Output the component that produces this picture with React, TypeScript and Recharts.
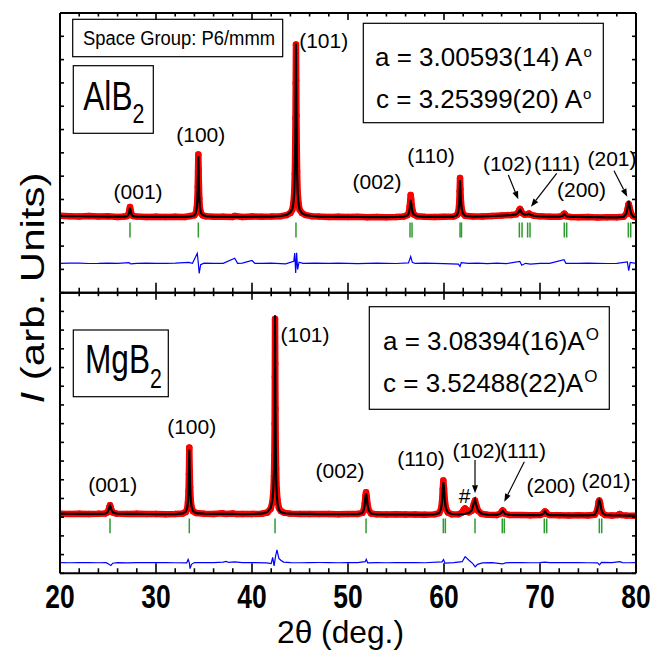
import React from "react";
import { ComposedChart, Line, Scatter, XAxis, YAxis, ReferenceDot, ReferenceLine } from "recharts";

const FONT = "'Liberation Sans', Arial, Helvetica, sans-serif";

// shared 2-theta axis
const xTicks = [20, 22, 24, 26, 28, 30, 32, 34, 36, 38, 40, 42, 44, 46, 48, 50, 52, 54, 56, 58, 60, 62, 64, 66, 68, 70, 72, 74, 76, 78, 80];
const topYTicks = [0, 1000, 2000, 3000, 4000, 5000, 6000, 7000, 8000, 9000, 10000, 11000, 12000];
const botYTicks = [0, 1000, 2000, 3000, 4000, 5000, 6000, 7000, 8000, 9000, 10000, 11000, 12000, 13000, 14000, 15000];

// AlB2: [2theta, observed, calculated]
const alObsCalc: [number, number, number][] = [
  [20.0, 3300, 3290], [21.0, 3285, 3285], [22.0, 3270, 3280], [23.0, 3290, 3275], [24.0, 3265, 3270],
  [25.0, 3275, 3265], [26.0, 3250, 3262], [26.7, 3265, 3262], [27.0, 3290, 3285], [27.15, 3380, 3360],
  [27.22, 3530, 3500], [27.29, 3680, 3650], [27.36, 3520, 3500], [27.45, 3370, 3350], [27.6, 3290, 3285],
  [28.0, 3265, 3262], [29.0, 3250, 3258], [30.0, 3262, 3255], [31.0, 3245, 3252], [32.0, 3258, 3250],
  [33.0, 3250, 3255], [33.6, 3290, 3275], [34.0, 3320, 3320], [34.15, 3420, 3430], [34.25, 3640, 3660],
  [34.31, 4000, 4050], [34.35, 4550, 4600], [34.38, 5200, 5250], [34.41, 5930, 5850], [34.44, 5300, 5250],
  [34.47, 4600, 4620], [34.51, 4050, 4080], [34.57, 3650, 3680], [34.67, 3430, 3440], [34.85, 3320, 3330],
  [35.2, 3280, 3285], [36.0, 3255, 3262], [37.0, 3262, 3258], [38.0, 3250, 3255], [38.2, 3290, 3255],
  [39.0, 3245, 3255], [40.0, 3270, 3258], [41.0, 3260, 3262], [42.0, 3265, 3268], [43.0, 3285, 3290],
  [43.6, 3330, 3340], [44.0, 3420, 3450], [44.2, 3560, 3600], [44.32, 3850, 3880], [44.4, 4300, 4350],
  [44.46, 5100, 5200], [44.5, 6200, 6300], [44.53, 7500, 7600], [44.555, 9000, 9100], [44.58, 10650, 10700],
  [44.605, 9100, 9100], [44.63, 7600, 7600], [44.66, 6300, 6300], [44.7, 5200, 5150], [44.76, 4300, 4300],
  [44.84, 3850, 3850], [44.96, 3560, 3570], [45.2, 3420, 3410], [45.6, 3330, 3330], [46.2, 3285, 3290],
  [47.0, 3265, 3268], [48.0, 3250, 3258], [49.0, 3262, 3252], [50.0, 3245, 3250], [51.0, 3255, 3248],
  [52.0, 3240, 3246], [53.0, 3252, 3245], [54.0, 3240, 3244], [55.0, 3250, 3248], [55.8, 3270, 3265],
  [56.2, 3330, 3320], [56.35, 3450, 3420], [56.43, 3700, 3620], [56.48, 3950, 3820], [56.53, 4190, 3980],
  [56.58, 4000, 3850], [56.64, 3750, 3660], [56.72, 3520, 3470], [56.85, 3360, 3350], [57.2, 3280, 3280],
  [58.0, 3255, 3255], [59.0, 3245, 3250], [60.0, 3255, 3252], [61.0, 3265, 3262], [61.35, 3330, 3330],
  [61.5, 3480, 3500], [61.58, 3800, 3820], [61.63, 4350, 4320], [61.67, 4920, 4835], [61.71, 4450, 4420],
  [61.76, 3950, 3950], [61.84, 3600, 3610], [61.95, 3400, 3410], [62.2, 3300, 3300], [63.0, 3265, 3268],
  [64.0, 3270, 3275], [65.0, 3290, 3290], [66.0, 3310, 3310], [67.0, 3335, 3330], [67.5, 3360, 3360],
  [67.75, 3450, 3440], [67.85, 3550, 3530], [67.92, 3590, 3560], [68.0, 3530, 3510], [68.12, 3420, 3410],
  [68.4, 3350, 3350], [68.7, 3360, 3355], [68.85, 3400, 3385], [69.0, 3350, 3340], [69.4, 3300, 3295],
  [70.0, 3275, 3275], [71.0, 3258, 3262], [72.0, 3260, 3260], [72.35, 3290, 3290], [72.45, 3360, 3340],
  [72.53, 3390, 3365], [72.62, 3350, 3335], [72.75, 3275, 3280], [73.2, 3250, 3255], [74.0, 3240, 3250],
  [75.0, 3245, 3245], [76.0, 3230, 3240], [77.0, 3240, 3235], [78.0, 3235, 3232], [78.7, 3260, 3255],
  [79.0, 3380, 3400], [79.12, 3580, 3650], [79.2, 3760, 3880], [79.24, 3800, 3950], [79.3, 3700, 3800],
  [79.38, 3550, 3580], [79.5, 3380, 3390], [79.7, 3280, 3270], [80.0, 3240, 3230],
];

// AlB2: [2theta, obs - calc (offset)]
const alDiff: [number, number][] = [
  [20, 1260], [21, 1270], [22, 1265], [23, 1252], [24, 1255], [25, 1268], [26, 1262], [27.2, 1290], [27.35, 1235],
  [28, 1260], [29, 1270], [30, 1255], [31, 1262], [32, 1265], [33.4, 1300], [33.8, 1262], [34.3, 1690],
  [34.41, 1260], [34.5, 830], [34.65, 1200], [35, 1270], [36, 1258], [37, 1262], [38.2, 1480], [38.5, 1258],
  [39, 1268], [40, 1380], [40.3, 1260], [41, 1255], [42, 1265], [43.5, 1240], [44.35, 1350], [44.45, 1700],
  [44.55, 850], [44.65, 1710], [44.75, 1000], [44.9, 1310], [45.3, 1260], [46.5, 1270], [48, 1258],
  [49, 1268], [50, 1262], [51, 1250], [52, 1255], [53, 1266], [54, 1260], [55, 1252], [56.3, 1280],
  [56.53, 1550], [56.7, 1300], [57, 1255], [58, 1266], [59, 1262], [60, 1250], [61.5, 1230], [61.67, 1130],
  [61.8, 1290], [62.5, 1255], [63.5, 1268], [64.5, 1250], [65.5, 1265], [66.5, 1250], [67.9, 1340],
  [68.1, 1180], [68.5, 1262], [69, 1230], [70, 1262], [71, 1255], [72.5, 1420], [72.7, 1262], [74, 1255],
  [75, 1266], [76, 1262], [77, 1252], [78, 1258], [79.1, 1320], [79.24, 950], [79.4, 1300], [80, 1260],
];

const alBragg = [27.29, 34.41, 44.58, 56.46, 56.67, 61.67, 61.82, 67.85, 68.13, 68.71, 68.96, 72.53, 72.78, 79.2, 79.45];
const alBraggLevel = 2690;

// MgB2: [2theta, observed, calculated]
const mgObsCalc: [number, number, number][] = [
  [20.0, 3190, 3185], [21.0, 3175, 3182], [22.0, 3185, 3178], [23.0, 3170, 3176], [24.0, 3180, 3174],
  [24.7, 3200, 3190], [24.95, 3260, 3270], [25.08, 3400, 3420], [25.15, 3540, 3550], [25.21, 3640, 3620],
  [25.27, 3530, 3540], [25.35, 3390, 3400], [25.5, 3250, 3260], [25.9, 3190, 3195], [27.0, 3175, 3180],
  [28.0, 3180, 3172], [29.0, 3165, 3170], [30.0, 3172, 3168], [31.0, 3160, 3166], [32.0, 3170, 3168],
  [32.8, 3200, 3205], [33.1, 3280, 3300], [33.25, 3450, 3480], [33.33, 3800, 3850], [33.39, 4400, 4450],
  [33.43, 5300, 5350], [33.47, 6720, 6600], [33.51, 5500, 5550], [33.55, 4600, 4700], [33.61, 3950, 4000],
  [33.7, 3550, 3580], [33.85, 3320, 3330], [34.2, 3220, 3215], [35.0, 3180, 3185], [36.0, 3170, 3178],
  [36.9, 3210, 3176], [37.2, 3175, 3175], [38.0, 3200, 3172], [38.4, 3165, 3170], [39.0, 3170, 3168],
  [40.0, 3172, 3170], [41.0, 3185, 3185], [41.6, 3250, 3270], [41.95, 3450, 3500], [42.12, 3800, 3900],
  [42.22, 4300, 4500], [42.29, 5200, 5500], [42.33, 6300, 6700], [42.36, 8000, 8300], [42.38, 10500, 11000],
  [42.4, 13600, 13800], [42.42, 11200, 11300], [42.445, 8800, 8700], [42.47, 7000, 6800], [42.51, 5600, 5300],
  [42.57, 4500, 4300], [42.66, 3900, 3700], [42.8, 3500, 3400], [43.0, 3330, 3280], [43.4, 3230, 3210],
  [44.0, 3190, 3190], [45.0, 3175, 3180], [46.0, 3170, 3172], [47.0, 3165, 3168], [48.0, 3170, 3165],
  [49.0, 3160, 3162], [50.0, 3165, 3160], [51.0, 3170, 3165], [51.5, 3230, 3220], [51.65, 3400, 3400],
  [51.75, 3750, 3720], [51.82, 4150, 4100], [51.88, 4330, 4280], [51.95, 4100, 4050], [52.03, 3700, 3680],
  [52.15, 3380, 3370], [52.4, 3200, 3195], [53.0, 3150, 3155], [54.0, 3145, 3150], [55.0, 3150, 3145],
  [56.0, 3140, 3145], [57.0, 3145, 3140], [58.0, 3135, 3140], [59.0, 3150, 3150], [59.5, 3220, 3220],
  [59.7, 3450, 3460], [59.8, 3850, 3860], [59.87, 4500, 4450], [59.93, 4960, 4880], [60.0, 4550, 4500],
  [60.08, 3950, 3900], [60.2, 3500, 3480], [60.4, 3250, 3250], [60.8, 3160, 3170], [61.5, 3150, 3155],
  [61.9, 3250, 3165], [62.05, 3400, 3170], [62.19, 3465, 3180], [62.35, 3380, 3200], [62.6, 3260, 3240],
  [62.9, 3350, 3380], [63.1, 3700, 3750], [63.23, 3890, 3930], [63.35, 3650, 3680], [63.55, 3350, 3350],
  [63.9, 3180, 3190], [64.5, 3130, 3135], [65.5, 3120, 3125], [65.9, 3200, 3200], [66.03, 3310, 3290],
  [66.11, 3360, 3330], [66.2, 3300, 3280], [66.35, 3180, 3180], [66.8, 3120, 3120], [68.0, 3110, 3115],
  [69.0, 3105, 3110], [70.0, 3110, 3108], [70.35, 3180, 3180], [70.45, 3270, 3260], [70.52, 3310, 3300],
  [70.6, 3280, 3270], [70.7, 3180, 3180], [71.0, 3110, 3110], [72.0, 3100, 3105], [73.0, 3095, 3100],
  [74.0, 3100, 3095], [75.0, 3095, 3092], [75.7, 3130, 3130], [75.95, 3350, 3380], [76.06, 3650, 3700],
  [76.12, 3830, 3870], [76.18, 3890, 3920], [76.26, 3750, 3790], [76.36, 3450, 3480], [76.5, 3220, 3230],
  [76.8, 3110, 3115], [77.5, 3090, 3092], [78.1, 3110, 3090], [78.3, 3170, 3100], [78.5, 3110, 3090],
  [79.0, 3085, 3085], [80.0, 3080, 3080],
];

const mgDiff: [number, number][] = [
  [20, 570], [21, 565], [22, 575], [23, 568], [24, 565], [24.8, 570], [25.1, 480], [25.3, 420], [25.5, 540],
  [26, 570], [27, 562], [28, 568], [29, 575], [30, 575], [31, 566], [32, 565], [33.2, 560], [33.35, 740],
  [33.47, 570], [33.55, 250], [33.7, 480], [34, 575], [35, 568], [36, 572], [37, 600], [37.3, 640],
  [37.6, 580], [38.2, 610], [39, 570], [40, 572], [41.5, 555], [42.0, 520], [42.15, 850], [42.3, 400],
  [42.45, 900], [42.6, 1250], [42.8, 800], [43.0, 700], [43.3, 600], [44, 575], [45, 565], [46, 570],
  [47, 576], [48, 572], [49, 565], [50, 568], [51, 572], [51.8, 620], [51.9, 750], [52.05, 560], [53, 570],
  [54, 565], [55, 572], [56, 578], [57, 568], [58, 565], [59.8, 610], [59.95, 730], [60.1, 540], [61, 570],
  [61.9, 620], [62.2, 890], [62.6, 700], [63.0, 520], [63.25, 350], [63.5, 480], [64, 560], [65, 570],
  [66.1, 500], [66.4, 560], [67, 572], [68, 575], [69, 565], [70, 570], [70.5, 600], [71, 566], [72, 568],
  [73, 575], [74, 572], [75, 565], [76.0, 560], [76.2, 450], [76.4, 580], [77.5, 570], [78.3, 620],
  [78.6, 575], [79.3, 565], [80, 570],
];

const mgBragg = [25.21, 33.47, 42.4, 51.88, 59.93, 60.14, 63.23, 66.07, 66.28, 70.45, 70.7, 76.18, 76.43];
const mgBraggLevel = 2540;

// Miller index labels [2theta, intensity, text]
const alLabels: [number, number, string][] = [
  [28.13, 4020, "(001)"], [34.66, 6465, "(100)"], [47.47, 10498, "(101)"], [53.02, 4449, "(002)"],
  [58.65, 5564, "(110)"], [66.61, 5221, "(102)"], [71.77, 5221, "(111)"], [74.32, 4105, "(200)"],
  [77.5, 5435, "(201)"],
];
const alArrows: [number, number, number, number][] = [
  [66.7, 5049, 67.74, 4007], [71.74, 5122, 69.06, 3689], [77.71, 5232, 79.09, 4118],
];
const mgLabels: [number, number, string][] = [
  [25.49, 4346, "(001)"], [33.72, 7447, "(100)"], [45.52, 12365, "(101)"], [49.17, 5095, "(002)"],
  [57.6, 5736, "(110)"], [63.44, 6164, "(102)"], [68.23, 6164, "(111)"], [62.14, 3758, "#"],
  [71.15, 4293, "(200)"], [76.88, 4560, "(201)"],
];
const mgArrows: [number, number, number, number][] = [
  [63.23, 6057, 63.23, 4277], [68.36, 5966, 66.28, 3828],
];

const axisLine = { stroke: "#000", strokeWidth: 2 };

const Arrow = (p: any) => {
  const { x1, y1, x2, y2 } = p;
  const dx = x2 - x1;
  const dy = y2 - y1;
  const len = Math.hypot(dx, dy) || 1;
  const ux = dx / len;
  const uy = dy / len;
  const bx = x2 - ux * 8;
  const by = y2 - uy * 8;
  return (
    <g>
      <line x1={x1} y1={y1} x2={bx} y2={by} stroke="#000" strokeWidth={1.2} />
      <polygon points={`${x2},${y2} ${bx - uy * 3},${by + ux * 3} ${bx + uy * 3},${by - ux * 3}`} fill="#000" />
    </g>
  );
};

interface PanelProps {
  pts: [number, number, number][];
  diff: [number, number][];
  bragg: number[];
  braggLevel: number;
  labels: [number, number, string][];
  arrows: [number, number, number, number][];
  yTicks: number[];
  top: number;
  height: number;
  margin: { top: number; right: number; bottom: number; left: number };
  showLabels: boolean;
}

function Panel({ pts, diff, bragg, braggLevel, labels, arrows, yTicks, top, height, margin, showLabels }: PanelProps) {
  const obs = pts.map(([x, o, c]) => ({ x, obs: o, calc: c }));
  const dif = diff.map(([x, v]) => ({ x, diff: v }));
  const br = bragg.map((x) => ({ x, y: braggLevel }));
  const yMax = yTicks[yTicks.length - 1];
  // visible axes take 1px each, so the plot area stays where the hidden-axis chart puts it
  const axMargin = { top: margin.top - 1, right: margin.right - 1, bottom: margin.bottom - 1, left: margin.left - 1 };

  const bottomTick = (p: any) => {
    const major = p.payload.value % 10 === 0;
    return (
      <g>
        <line x1={p.x} x2={p.x} y1={p.y} y2={p.y - (major ? 10 : 5)} stroke="#000" strokeWidth={1.6} />
        {showLabels && major && (
          <text transform={`translate(${p.x} ${p.y + 35}) scale(0.8 1)`} textAnchor="middle" fontSize={33}
            fontWeight="bold" fontFamily={FONT} fill="#000">{p.payload.value}</text>
        )}
      </g>
    );
  };
  const topTick = (p: any) => {
    const major = p.payload.value % 10 === 0;
    return <line x1={p.x} x2={p.x} y1={p.y} y2={p.y + (major ? 7 : 3.5)} stroke="#000" strokeWidth={1.6} />;
  };
  const leftTick = (p: any) => <line x1={p.x} x2={p.x + 4} y1={p.y} y2={p.y} stroke="#000" strokeWidth={1.6} />;
  const rightTick = (p: any) => <line x1={p.x} x2={p.x - 4} y1={p.y} y2={p.y} stroke="#000" strokeWidth={1.6} />;

  return (
    <div style={{ position: "absolute", left: 0, top, width: 654, height }}>
      {/* observed points underneath */}
      <div style={{ position: "absolute", left: 0, top: 0 }}>
        <ComposedChart width={654} height={height} margin={margin}>
          <XAxis hide type="number" dataKey="x" domain={[20, 80]} allowDataOverflow />
          <YAxis hide type="number" domain={[0, yMax]} allowDataOverflow />
          <Line data={obs} dataKey="obs" type="linear" stroke="#ff0000" strokeWidth={6.5} strokeLinejoin="round"
            dot={{ r: 3.2, fill: "#ff0000", stroke: "none" }} activeDot={false} isAnimationActive={false} />
        </ComposedChart>
      </div>
      {/* fit, difference, Bragg positions, axes and labels on top */}
      <div style={{ position: "absolute", left: 0, top: 0 }}>
        <ComposedChart width={654} height={height} margin={axMargin}>
          <XAxis xAxisId="b" type="number" dataKey="x" domain={[20, 80]} ticks={xTicks} interval={0} height={1}
            tickSize={0} tickMargin={0} tickLine={false} axisLine={axisLine} tick={bottomTick} allowDataOverflow />
          <XAxis xAxisId="t" orientation="top" type="number" dataKey="x" domain={[20, 80]} ticks={xTicks} interval={0}
            height={1} tickSize={0} tickMargin={0} tickLine={false} axisLine={axisLine} tick={topTick} allowDataOverflow />
          <YAxis yAxisId="l" type="number" domain={[0, yMax]} ticks={yTicks} interval={0} width={1} tickSize={0}
            tickMargin={0} tickLine={false} axisLine={axisLine} tick={leftTick} allowDataOverflow />
          <YAxis yAxisId="r" orientation="right" type="number" domain={[0, yMax]} ticks={yTicks} interval={0} width={1}
            tickSize={0} tickMargin={0} tickLine={false} axisLine={axisLine} tick={rightTick} allowDataOverflow />
          <Line xAxisId="b" yAxisId="l" data={obs} dataKey="calc" type="linear" stroke="#000" strokeWidth={2.2}
            dot={false} activeDot={false} isAnimationActive={false} />
          <Line xAxisId="b" yAxisId="l" data={dif} dataKey="diff" type="linear" stroke="#0000ff" strokeWidth={1.2}
            dot={false} activeDot={false} isAnimationActive={false} />
          <Scatter xAxisId="b" yAxisId="l" data={br} dataKey="y" isAnimationActive={false}
            shape={(p: any) => <line x1={p.cx} x2={p.cx} y1={p.cy - 7.4} y2={p.cy + 7.4} stroke="#2e9b2e" strokeWidth={1.5} />} />
          {arrows.map(([xa, ya, xb, yb], i) => (
            <ReferenceLine key={`a${i}`} xAxisId="b" yAxisId="l" segment={[{ x: xa, y: ya }, { x: xb, y: yb }]} shape={Arrow} />
          ))}
          {labels.map(([lx, ly, t], i) => (
            <ReferenceDot key={`l${i}`} xAxisId="b" yAxisId="l" x={lx} y={ly} r={0}
              shape={(p: any) => (
                <text x={p.cx} y={p.cy} textAnchor="middle" fontSize={21} fontFamily={FONT} fill="#000">{t}</text>
              )} />
          ))}
        </ComposedChart>
      </div>
    </div>
  );
}

export default function App() {
  return (
    <div style={{ position: "absolute", left: 0, top: 0, width: 654, height: 651, background: "#fff", fontFamily: FONT }}>
      <Panel pts={alObsCalc} diff={alDiff} bragg={alBragg} braggLevel={alBraggLevel} labels={alLabels} arrows={alArrows}
        yTicks={topYTicks} top={0} height={300} margin={{ top: 13, right: 18, bottom: 7.3, left: 60 }} showLabels={false} />
      <Panel pts={mgObsCalc} diff={mgDiff} bragg={mgBragg} braggLevel={mgBraggLevel} labels={mgLabels} arrows={mgArrows}
        yTicks={botYTicks} top={280} height={371} margin={{ top: 12.7, right: 18, bottom: 77.7, left: 60 }} showLabels />
      <svg width={654} height={651} style={{ position: "absolute", left: 0, top: 0, pointerEvents: "none" }}>
        <g fontFamily={FONT} fill="#000">
          <rect x={72.7} y={19.3} width={210} height={37.4} fill="none" stroke="#000" strokeWidth={1.2} />
          <text x={83} y={45} fontSize={20} textLength={192} lengthAdjust="spacingAndGlyphs">Space Group: P6/mmm</text>

          <rect x={73.3} y={65.7} width={80} height={67.6} fill="none" stroke="#000" strokeWidth={1.2} />
          <text transform="translate(83.3 110) scale(0.79 1)" fontSize={40}>
            AlB<tspan dy={13} fontSize={27}>2</tspan>
          </text>

          <rect x={363.3} y={23.3} width={240} height={99.4} fill="none" stroke="#000" strokeWidth={1.2} />
          <text x={375} y={65.7} fontSize={26}>a = 3.00593(14) A<tspan dx={1} dy={-9} fontSize={15}>o</tspan></text>
          <text x={376} y={108.3} fontSize={26}>c = 3.25399(20) A<tspan dx={1} dy={-9} fontSize={15}>o</tspan></text>

          <rect x={73.3} y={330} width={95} height={66.7} fill="none" stroke="#000" strokeWidth={1.2} />
          <text transform="translate(85 373.3) scale(0.79 1)" fontSize={40}>
            MgB<tspan dy={14.7} fontSize={27}>2</tspan>
          </text>

          <rect x={369.3} y={306.7} width={240} height={102.6} fill="none" stroke="#000" strokeWidth={1.2} />
          <text x={383} y={350} fontSize={26}>a = 3.08394(16)A<tspan dx={1} dy={-10} fontSize={17}>O</tspan></text>
          <text x={383} y={391.7} fontSize={26}>c = 3.52488(22)A<tspan dx={1} dy={-10} fontSize={17}>O</tspan></text>

          <text transform="translate(44 288) rotate(-90) scale(1 0.8)" textAnchor="middle" fontSize={42}>
            <tspan fontStyle="italic">I</tspan> (arb. Units)
          </text>
          <text x={340.5} y={643} textAnchor="middle" fontSize={32} textLength={127} lengthAdjust="spacingAndGlyphs">2θ (deg.)</text>
        </g>
      </svg>
    </div>
  );
}
